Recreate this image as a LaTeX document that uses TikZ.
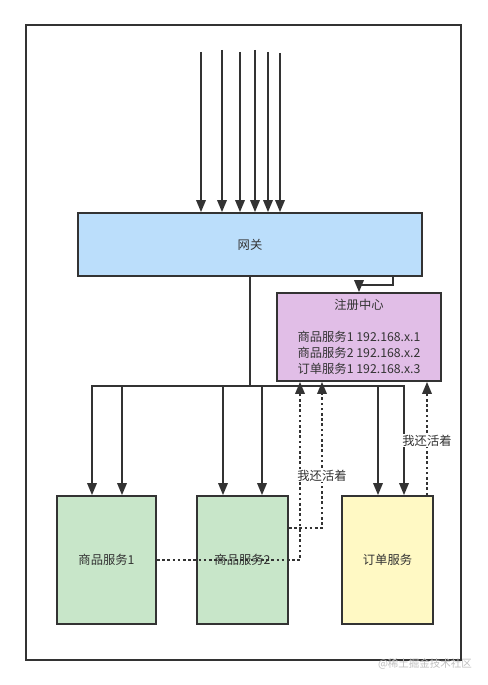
\documentclass[tikz,border=0pt]{standalone}
\usepackage{fontspec}
\newfontfamily\cjk{Noto Sans CJK SC}
\usetikzlibrary{arrows.meta}
\definecolor{line}{HTML}{333333}
\definecolor{gwblue}{HTML}{BBDEFB}
\definecolor{regpurple}{HTML}{E1BEE7}
\definecolor{svgreen}{HTML}{C8E6C9}
\definecolor{odyellow}{HTML}{FFF9C4}
\begin{document}
\begin{tikzpicture}[x=1pt,y=-1pt,font=\cjk\fontsize{12.3}{16}\selectfont,line join=miter,>={Triangle[width=9.5pt,length=12pt]}]
	\tikzset{box/.style={draw=line,line width=1.8pt,text=line,inner sep=0pt},
		link/.style={draw=line,line width=1.8pt},
		beat/.style={draw=line,line width=1.8pt,dash pattern=on 2.6pt off 2.6pt},
		alive/.style={fill=white,text=line,inner sep=1pt}}
	\useasboundingbox (0,0) rectangle (487,685);
	\draw[line,line width=1.8pt] (26,25) rectangle (461,660);
	% boxes
	\node[box,fill=gwblue,minimum width=344pt,minimum height=63pt] (gw) at (250,244.5) {网关};
	\node[box,fill=regpurple,minimum width=164pt,minimum height=88pt,align=center] (reg) at (359,337)
		{注册中心\\[16pt]商品服务1 192.168.x.1\\商品服务2 192.168.x.2\\订单服务1 192.168.x.3};
	\node[box,fill=svgreen,minimum width=99pt,minimum height=128pt] (s1) at (106.5,560) {商品服务1};
	\node[box,fill=svgreen,minimum width=91pt,minimum height=128pt] (s2) at (242.5,560) {商品服务2};
	\node[box,fill=odyellow,minimum width=91pt,minimum height=128pt] (order) at (387.5,560) {订单服务};
	% requests into the gateway
	\foreach \x/\y in {201/52,222/50,240/52,255/50,268/52,280/53}
	\draw[link,->] (\x,\y) coordinate (in\x) -- (in\x |- gw.north);
	\draw[link,->] ([xshift=-30pt]gw.south east) -- ++(0,8) -| (reg.north);
	% gateway to services
	\coordinate (bus) at (250,386);
	\draw[link] (gw.south) -- (bus);
	\draw[link] (92,386) -- (404,386);
	\foreach \b/\d in {s1/-14.5,s1/15.5,s2/-19.5,s2/19.5,order/-9.5,order/16.5}
	\draw[link,->] ([xshift=\d pt]\b.north) ++(0,-110) -- ([xshift=\d pt]\b.north);
	% heartbeats
	\draw[beat,->] (s1.east) -| ([xshift=-59pt]reg.south);
	\draw[beat,->] ([yshift=32pt]s2.east) -| ([xshift=-37pt]reg.south)
		node[alive,pos=0.68] (al1) {我还活着};
	\draw[beat,->] ([xshift=39.5pt]order.north) -- ([xshift=68pt]reg.south)
		node[alive,pos=0.48] (al2) {我还活着};
	\node[text=black!25,font=\cjk\fontsize{10.5}{12}\selectfont] (wm) at (425,664) {@稀土掘金技术社区};
\end{tikzpicture}
\end{document}
